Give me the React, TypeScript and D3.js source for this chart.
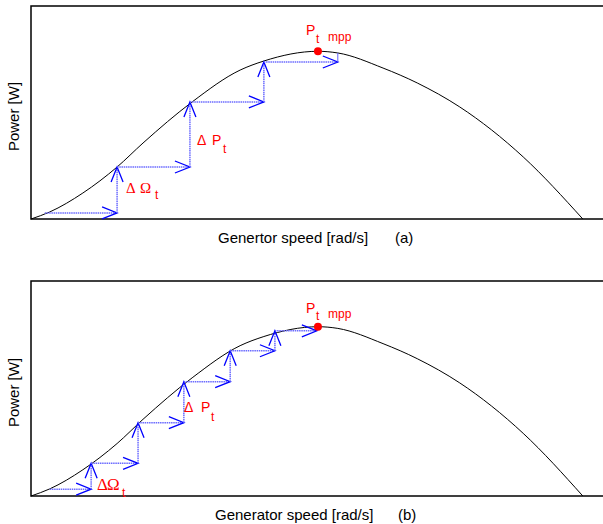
import React from "react";
import * as d3 from "d3";

// Power curve (normalised generator speed vs normalised power)
const curveSpeed = [0, 0.034, 0.094, 0.156, 0.203, 0.292, 0.379, 0.422, 0.52, 0.556, 0.638, 0.7, 0.777, 0.892, 1.0];
const curvePower = [0, 0.042, 0.155, 0.31, 0.453, 0.698, 0.888, 0.942, 1.0, 0.99, 0.9, 0.811, 0.668, 0.37, 0];

// Panel (a): big steps
const stepSpeedA = [0.025, 0.156, 0.288, 0.422, 0.556];
const stepPowerA = [0.036, 0.31, 0.698, 0.936];
const tailPowerA = 0.99;

// Panel (b): small steps
const stepSpeedB = [0.034, 0.109, 0.194, 0.277, 0.361, 0.442, 0.518];
const stepPowerB = [0.04, 0.193, 0.433, 0.675, 0.858, 0.976];

const mppSpeed = 0.52;
const mppPower = 1.0;

const W = 603;
const H = 524;
const LEFT = 31;
const xScale = d3.scaleLinear().domain([0, 1.1]).range([LEFT, 638]);

const panels = [
  { top: 6, bottom: 219, speeds: stepSpeedA, powers: stepPowerA, tail: tailPowerA, xlabel: "Genertor speed [rad/s]", tag: "(a)" },
  { top: 281, bottom: 496, speeds: stepSpeedB, powers: stepPowerB, tail: null as number | null, xlabel: "Generator speed [rad/s]", tag: "(b)" },
];

const SANS = "'Liberation Sans', Arial, sans-serif";
const SERIF = "'Liberation Serif', 'Times New Roman', serif";

function Arrow({ x1, y1, x2, y2 }: { x1: number; y1: number; x2: number; y2: number }) {
  const dx = x2 - x1;
  const dy = y2 - y1;
  const len = Math.hypot(dx, dy) || 1;
  const ux = dx / len;
  const uy = dy / len;
  const L = Math.min(15, len * 0.9);
  const Wd = 6;
  const bx = x2 - ux * L;
  const by = y2 - uy * L;
  const nx = -uy;
  const ny = ux;
  const head = `M${bx + nx * Wd},${by + ny * Wd}L${x2},${y2}L${bx - nx * Wd},${by - ny * Wd}`;
  return (
    <g>
      <line x1={x1} y1={y1} x2={x2} y2={y2} stroke="#6b6bff" strokeWidth={1.5} strokeDasharray="1.5,0.7" />
      <path d={head} fill="none" stroke="#0000ff" strokeWidth={1.3} />
    </g>
  );
}

function Panel({ p, idx }: { p: (typeof panels)[number]; idx: number }) {
  const y = d3.scaleLinear().domain([0, 1.27]).range([p.bottom, p.top]);
  const line = d3
    .line<number>()
    .x((_, i) => xScale(curveSpeed[i]))
    .y((d) => y(d))
    .curve(d3.curveMonotoneX);
  const arrows: JSX.Element[] = [];
  for (let i = 0; i < p.powers.length; i++) {
    const xa = xScale(p.speeds[i]);
    const xb = xScale(p.speeds[i + 1]);
    const ya = y(p.powers[i]);
    arrows.push(<Arrow key={`h${i}`} x1={xa} y1={ya} x2={xb} y2={ya} />);
    if (i + 1 < p.powers.length) {
      arrows.push(<Arrow key={`v${i}`} x1={xb} y1={ya} x2={xb} y2={y(p.powers[i + 1])} />);
    }
  }
  const last = p.speeds[p.speeds.length - 1];
  const px = xScale(mppSpeed);
  const py = y(mppPower);
  return (
    <g>
      <rect x={LEFT} y={p.top} width={700} height={p.bottom - p.top} fill="white" stroke="black" strokeWidth={1.5} />
      <path d={line(curvePower) || ""} fill="none" stroke="black" strokeWidth={1} />
      {arrows}
      {p.tail !== null && (
        <line x1={xScale(last)} x2={xScale(last)} y1={y(p.powers[p.powers.length - 1])} y2={y(p.tail)} stroke="#5f5fff" strokeWidth={1} />
      )}
      <circle cx={px} cy={py} r={4} fill="#ff0000" />
      {/* labels */}
      <text transform={`translate(19,${(p.top + p.bottom) / 2 + 4}) rotate(-90)`} textAnchor="middle" fontFamily={SANS} fontSize={15} fill="black">
        Power [W]
      </text>
      <text x={idx === 0 ? 218 : 215} y={p.bottom + 24} fontFamily={SANS} fontSize={15} fill="black">
        {p.xlabel}
      </text>
      <text x={idx === 0 ? 395 : 398} y={p.bottom + 24} fontFamily={SANS} fontSize={15} fill="black">
        {p.tag}
      </text>
      <g fill="#ff0000">
        <text x={306} y={py - (idx === 0 ? 16.5 : 14)} fontFamily={SANS} fontSize={14}>P</text>
        <text x={316} y={py - (idx === 0 ? 8.5 : 6.5)} fontFamily={SANS} fontSize={12}>t</text>
        <text x={328} y={py - (idx === 0 ? 10.5 : 8.5)} fontFamily={SANS} fontSize={12}>mpp</text>
        {idx === 0 ? (
          <>
            <text x={197} y={145} fontFamily={SANS} fontSize={14}>Δ</text>
            <text x={212} y={145} fontFamily={SANS} fontSize={14}>P</text>
            <text x={223} y={153} fontFamily={SANS} fontSize={12}>t</text>
            <text x={126} y={193} fontFamily={SERIF} fontSize={15}>Δ</text>
            <text x={140} y={193} fontFamily={SERIF} fontSize={15}>Ω</text>
            <text x={155} y={199} fontFamily={SANS} fontSize={12}>t</text>
          </>
        ) : (
          <>
            <text x={184} y={412} fontFamily={SANS} fontSize={14}>Δ</text>
            <text x={201} y={412} fontFamily={SANS} fontSize={14}>P</text>
            <text x={211} y={421} fontFamily={SANS} fontSize={12}>t</text>
            <text x={97} y={490} fontFamily={SERIF} fontSize={17}>Δ</text>
            <text x={107} y={490} fontFamily={SERIF} fontSize={17}>Ω</text>
            <text x={122} y={497} fontFamily={SANS} fontSize={12}>t</text>
          </>
        )}
      </g>
    </g>
  );
}

export default function App() {
  return (
    <svg width={W} height={H} style={{ position: "absolute", left: 0, top: 0, background: "white" }}>
      <rect x={0} y={0} width={W} height={H} fill="white" />
      {panels.map((p, i) => (
        <Panel key={i} p={p} idx={i} />
      ))}
    </svg>
  );
}
